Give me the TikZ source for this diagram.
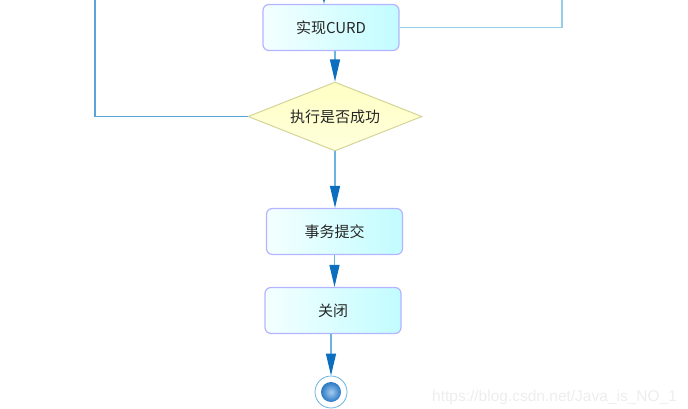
\documentclass[tikz,border=0pt]{standalone}
\usepackage{fontspec}
\setmainfont{Noto Sans CJK SC}
\newfontfamily\markfont{Liberation Sans}
\usetikzlibrary{shapes.geometric,arrows.meta}
\definecolor{boxline}{HTML}{B4B4FF}
\definecolor{boxleft}{HTML}{F4FFFF}
\definecolor{boxright}{HTML}{C2FCFF}
\definecolor{diatop}{HTML}{FFFFC4}
\definecolor{diabottom}{HTML}{FFFFDC}
\definecolor{dialine}{HTML}{D4D498}
\definecolor{flowline}{HTML}{6CB4E0}
\definecolor{leftline}{HTML}{5AA4D8}
\definecolor{rightline}{HTML}{94CDE8}
\definecolor{tipblue}{HTML}{0C6EBE}
\definecolor{ballin}{HTML}{A4CCF0}
\definecolor{ballout}{HTML}{2A78C4}
\begin{document}
\begin{tikzpicture}[x=1pt, y=-1pt,
    activity/.style={draw=boxline, line width=1.2pt, rounded corners=6pt,
        left color=boxleft, right color=boxright, text=black!85,
        minimum width=136pt, minimum height=46pt, font=\fontsize{15}{18}\selectfont},
    decision/.style={diamond, aspect=2.5, draw=dialine, line width=1pt, top color=diatop,
        bottom color=diabottom, text=black!85, inner sep=0pt,
        minimum width=174pt, minimum height=69pt, font=\fontsize{15}{18}\selectfont},
    flow/.style={draw=flowline, line width=1.2pt,
        -{Triangle[length=22pt, width=10pt, color=tipblue]}},
    backedge/.style={line width=1.5pt}]
        \useasboundingbox (0,0) rectangle (688,409);
        \clip (0,0) rectangle (688,409);
        % activities
        \node[name=curd, activity] at (331,27.5) {实现CURD};
        \node[name=check, decision] at (335,116.5) {执行是否成功};
        \node[name=commit, activity] at (334.5,231.5) {事务提交};
        \node[name=close, activity] at (333,310.5) {关闭};
        \node[name=final, circle, draw=flowline, line width=0.8pt, minimum size=32pt, inner sep=0pt] at (331,392) {};
        \node[name=ball, circle, inner color=ballin, outer color=ballout, minimum size=20pt, inner sep=0pt] at (final) {};
        % loose ends above the picture
        \coordinate (intop) at (324,-30);
        \coordinate (lefttop) at (95,-10);
        \coordinate (righttop) at (562,-10);
        % flows
        \draw[flow] (intop) -- (intop |- curd.north);
        \draw[flow] (check.north |- curd.south) -- (check.north);
        \draw[flow] (check.south) -- (check.south |- commit.north);
        \draw[flow] (commit.south) -- (commit.south |- close.north);
        \draw[flow] (final.north |- close.south) -- (final.north);
        \draw[backedge, draw=leftline] (check.west) -| (lefttop);
        \draw[backedge, draw=rightline] (curd.east) -| (righttop);
        % watermark
        \node[name=mark, anchor=base west, inner sep=0pt, text=black!7,
            font=\markfont\fontsize{15.5}{18}\selectfont] at (432,401) {https://blog.csdn.net/Java\_is\_NO\_1};
    \end{tikzpicture}
\end{document}
